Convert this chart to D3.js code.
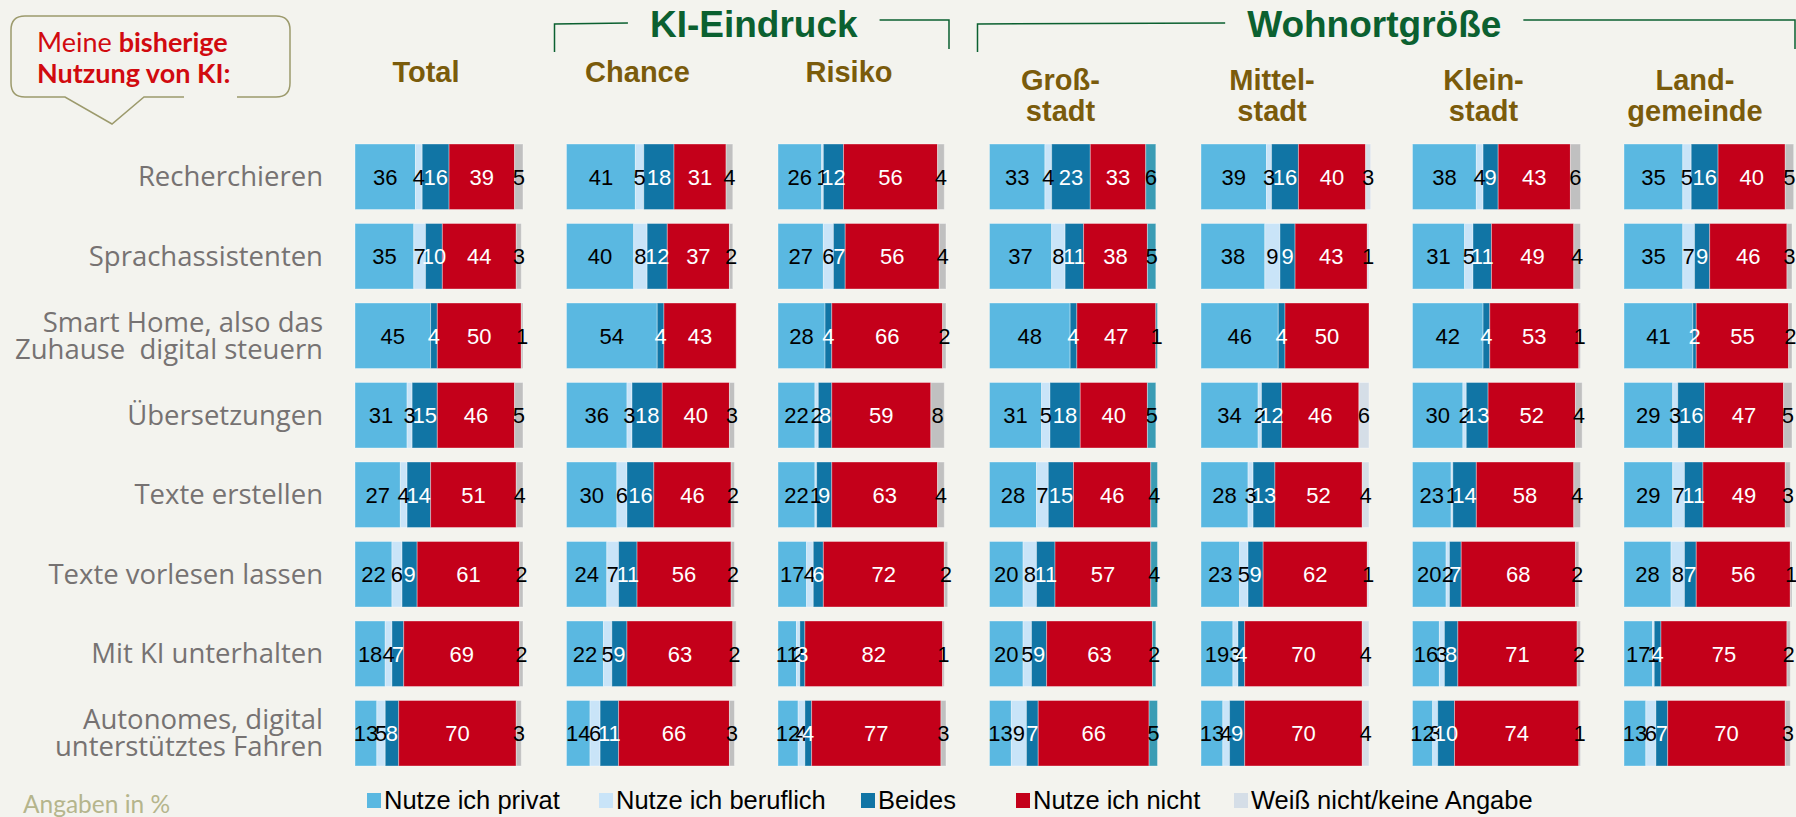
<!DOCTYPE html>
<html><head><meta charset="utf-8">
<script src="https://cdn.jsdelivr.net/npm/d3@7/dist/d3.min.js"></script>
<style>
html,body{margin:0;padding:0;background:#f3f3ee;}
svg{display:block;}
</style></head>
<body>
<svg id="chart" width="1796" height="817"></svg>
<script>
// ---------- DATA ----------
const columns = ["Total","Chance","Risiko","Großstadt","Mittelstadt","Kleinstadt","Landgemeinde"];
const columnTitles = [["Total"],["Chance"],["Risiko"],["Groß-","stadt"],["Mittel-","stadt"],["Klein-","stadt"],["Land-","gemeinde"]];
const categories = ["Recherchieren","Sprachassistenten","Smart Home","Übersetzungen","Texte erstellen","Texte vorlesen lassen","Mit KI unterhalten","Autonomes Fahren"];
const categoryLabels = [["Recherchieren"],["Sprachassistenten"],["Smart Home, also das","Zuhause  digital steuern"],["Übersetzungen"],["Texte erstellen"],["Texte vorlesen lassen"],["Mit KI unterhalten"],["Autonomes, digital","unterstütztes Fahren"]];
const seriesNames = ["Nutze ich privat","Nutze ich beruflich","Beides","Nutze ich nicht","Weiß nicht/keine Angabe"];
const groups = [{title:"KI-Eindruck", from:"Chance", to:"Risiko"},{title:"Wohnortgröße", from:"Großstadt", to:"Landgemeinde"}];

// values per column: rows = categories, cols = series [privat, beruflich, beides, nicht, weiß nicht]
const total        = [[36,4,16,39,5],[35,7,10,44,3],[45,0,4,50,1],[31,3,15,46,5],[27,4,14,51,4],[22,6,9,61,2],[18,4,7,69,2],[13,5,8,70,3]];
const chance       = [[41,5,18,31,4],[40,8,12,37,2],[54,0,4,43,0],[36,3,18,40,3],[30,6,16,46,2],[24,7,11,56,2],[22,5,9,63,2],[14,6,11,66,3]];
const risiko       = [[26,1,12,56,4],[27,6,7,56,4],[28,0,4,66,2],[22,2,8,59,8],[22,1,9,63,4],[17,4,6,72,2],[11,2,3,82,1],[12,4,4,77,3]];
const grossstadt   = [[33,4,23,33,6],[37,8,11,38,5],[48,0,4,47,1],[31,5,18,40,5],[28,7,15,46,4],[20,8,11,57,4],[20,5,9,63,2],[13,9,7,66,5]];
const mittelstadt  = [[39,3,16,40,3],[38,9,9,43,1],[46,0,4,50,0],[34,2,12,46,6],[28,3,13,52,4],[23,5,9,62,1],[19,3,4,70,4],[13,4,9,70,4]];
const kleinstadt   = [[38,4,9,43,6],[31,5,11,49,4],[42,0,4,53,1],[30,2,13,52,4],[23,1,14,58,4],[20,2,7,68,2],[16,3,8,71,2],[12,3,10,74,1]];
const landgemeinde = [[35,5,16,40,5],[35,7,9,46,3],[41,0,2,55,2],[29,3,16,47,5],[29,7,11,49,3],[28,8,7,56,1],[17,1,4,75,2],[13,6,7,70,3]];
const columnValues = [total, chance, risiko, grossstadt, mittelstadt, kleinstadt, landgemeinde];

// ---------- STYLE ----------
const seriesColors = ["#5ab8e1","#c9e4f8","#1175a5","#c4001a","#d5dee7"];
const lastSegColors = ["#c0c0c0","#c0c0c0","#c0c0c0","#3a9cb4","#d5dee7","#c0c0c0","#c0c0c0"];
const labelColors = ["#000","#000","#fff","#fff","#000"];
const brown = "#7a5b0b", green = "#0b6030";

const svg = d3.select("#chart");

const xBand = d3.scaleBand().domain(columns).range([355, 1792]).paddingInner(0.2057).paddingOuter(0);
const yBand = d3.scaleBand().domain(categories).range([144, 766]).paddingInner(0.176).paddingOuter(0);
const bw = xBand.bandwidth();
const xVal = d3.scaleLinear().domain([0,100]).range([0, bw]);

// ---------- BARS ----------
columns.forEach((col, ci) => {
  const g = svg.append("g").attr("transform", `translate(${xBand(col)},0)`);
  const rows = columnValues[ci];
  rows.forEach((vals, ri) => {
    const y0 = yBand(categories[ri]);
    const h = yBand.bandwidth();
    let acc = 0;
    const segs = vals.map((v, si) => { const s = {v, si, x0: acc}; acc += v; return s; });
    const rg = g.append("g");
    rg.selectAll("rect").data(segs.filter(s => s.v > 0)).join("rect")
      .attr("x", s => xVal(s.x0))
      .attr("y", y0)
      .attr("width", s => xVal(s.v))
      .attr("height", h)
      .attr("fill", s => s.si === 4 ? lastSegColors[ci] : seriesColors[s.si])
      .attr("stroke", "rgba(255,255,255,0.35)")
      .attr("stroke-width", 1);
    rg.selectAll("text").data(segs.filter(s => s.v > 0)).join("text")
      .attr("x", s => xVal(s.x0 + s.v/2))
      .attr("y", y0 + h/2)
      .attr("dy", "0.36em")
      .attr("text-anchor", "middle")
      .attr("font-family", "'Liberation Sans', Arial, sans-serif")
      .attr("font-size", 22)
      .attr("fill", s => labelColors[s.si])
      .text(s => s.v);
  });
});

// ---------- ROW LABELS ----------
categories.forEach((c, ri) => {
  const lines = categoryLabels[ri];
  const cy = yBand(c) + yBand.bandwidth()/2;
  const lh = 27;
  const t = svg.append("text")
    .attr("text-anchor", "end")
    .attr("font-family", "'Open Sans', sans-serif")
    .attr("font-size", 27.5)
    .attr("fill", "#767272");
  lines.forEach((l, li) => {
    t.append("tspan").attr("x", 323)
      .attr("y", cy + (li - (lines.length-1)/2) * lh)
      .attr("dy", "0.35em")
      .attr("xml:space", "preserve")
      .style("white-space", "pre")
      .text(l);
  });
});

// ---------- COLUMN HEADERS ----------
columns.forEach((col, ci) => {
  const lines = columnTitles[ci];
  const cx = xBand(col) + bw/2 - 13;
  const t = svg.append("text")
    .attr("text-anchor", "middle")
    .attr("font-family", "'Liberation Sans', Arial, sans-serif")
    .attr("font-weight", "bold")
    .attr("font-size", 29)
    .attr("fill", brown);
  if (lines.length === 1) {
    t.append("tspan").attr("x", cx).attr("y", 82).text(lines[0]);
  } else {
    lines.forEach((l, li) => t.append("tspan").attr("x", cx).attr("y", 90 + li*31).text(l));
  }
});

// ---------- GROUP BRACKETS ----------
const groupShift = [2, -12];
groups.forEach((gr, gi) => {
  const left = xBand(gr.from) - 12;
  const right = xBand(gr.to) + bw + 3;
  const cx = (left + right)/2 + groupShift[gi];
  const t = svg.append("text").attr("x", cx).attr("y", 37)
    .attr("text-anchor", "middle")
    .attr("font-family", "'Liberation Sans', Arial, sans-serif")
    .attr("font-weight", "bold")
    .attr("font-size", 37)
    .attr("fill", green)
    .text(gr.title);
  const tw = t.node().getComputedTextLength();
  const gap = 22;
  svg.append("path")
    .attr("d", `M${left},52 L${left},24 L${cx - tw/2 - gap},23`)
    .attr("fill","none").attr("stroke", green).attr("stroke-width", 1.5);
  svg.append("path")
    .attr("d", `M${cx + tw/2 + gap},20 L${right},20 L${right},49`)
    .attr("fill","none").attr("stroke", green).attr("stroke-width", 1.5);
});

// ---------- SPEECH BUBBLE ----------
const bx0 = 11, bx1 = 290, by0 = 16, by1 = 97, r = 14;
svg.append("path")
  .attr("d", `M184,${by1} L144,${by1} L112,124 L65,${by1} L${bx0+r},${by1} Q${bx0},${by1} ${bx0},${by1-r} L${bx0},${by0+r} Q${bx0},${by0} ${bx0+r},${by0} L${bx1-r},${by0} Q${bx1},${by0} ${bx1},${by0+r} L${bx1},${by1-r} Q${bx1},${by1} ${bx1-r},${by1} L237,${by1}`)
  .attr("fill","none").attr("stroke","#9c9a6c").attr("stroke-width",1.5);
const bt = svg.append("text").attr("font-family","Lato, sans-serif").attr("font-size",27).attr("fill","#d10a0f");
const l1 = bt.append("tspan").attr("x",37).attr("y",52);
l1.append("tspan").text("Meine ");
l1.append("tspan").attr("font-weight","bold").text("bisherige");
bt.append("tspan").attr("x",37).attr("y",83).attr("font-weight","bold").text("Nutzung von KI:");

// ---------- LEGEND ----------
const legendX = [367, 599, 861, 1016, 1234];
const lg = svg.append("g");
seriesNames.forEach((n, i) => {
  lg.append("rect").attr("x", legendX[i]).attr("y", 793).attr("width", 14).attr("height", 15).attr("fill", seriesColors[i]);
  lg.append("text").attr("x", legendX[i] + 17).attr("y", 809)
    .attr("font-family","'Liberation Sans', Arial, sans-serif").attr("font-size",25.5).attr("fill","#000").text(n);
});
svg.append("text").attr("x",23).attr("y",813).attr("font-family","Lato, sans-serif").attr("font-size",24.5).attr("fill","#b5b58c").text("Angaben in %");
</script>
</body></html>
